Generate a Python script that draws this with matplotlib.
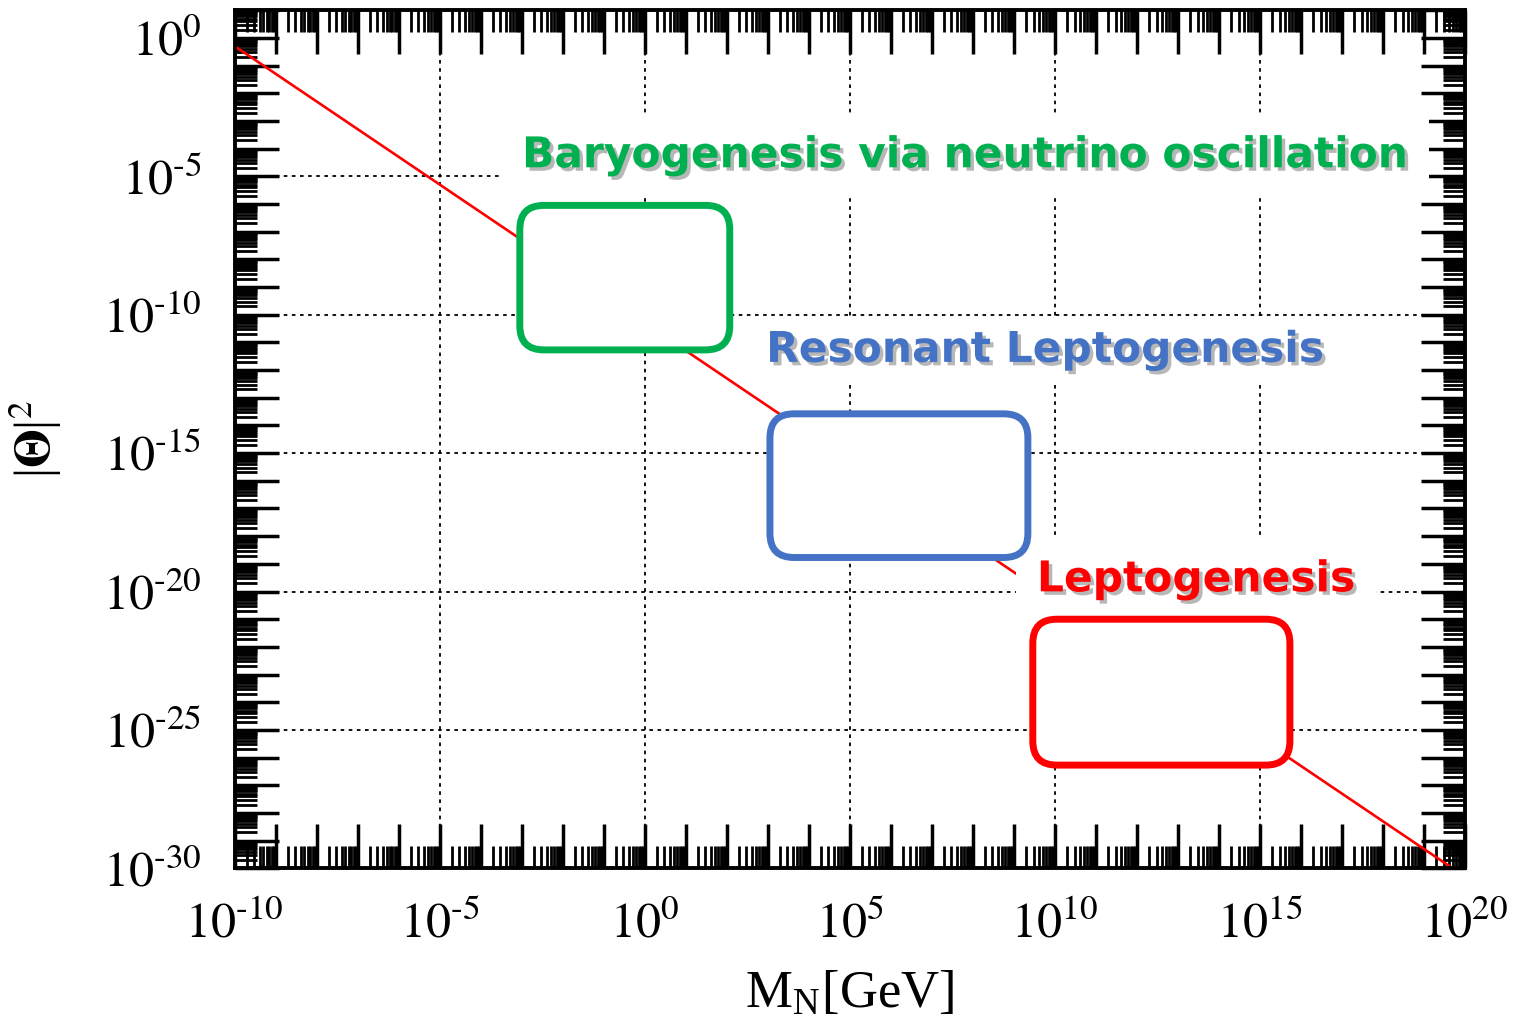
import numpy as np
import matplotlib
matplotlib.use('Agg')
import matplotlib.pyplot as plt
import matplotlib.ticker as mticker
import matplotlib.patheffects as pe
from matplotlib.patches import FancyBboxPatch
from matplotlib.transforms import IdentityTransform

plt.rcParams['font.family'] = ['Liberation Serif', 'DejaVu Serif']
plt.rcParams['mathtext.fontset'] = 'stix'

# seesaw line |Theta|^2 ~ m_nu / M_N (end points)
m_line = [1e-10, 5e19]
theta_line = [0.5, 1e-30]

# regions (x range in GeV, y range in |Theta|^2)
box_names = ['Baryogenesis via neutrino oscillation', 'Resonant Leptogenesis', 'Leptogenesis']
box_colors = ['#00B050', '#4472C4', '#FF0000']
box_x = [(10**-3.05, 10**2.07), (10**3.05, 10**9.34), (10**9.46, 10**15.73)]
box_y = [(10**-11.27, 10**-6.05), (10**-18.77, 10**-13.58), (10**-26.27, 10**-21.0)]
label_xy = [(10**7.8, 10**-4.24), (10**9.76, 10**-11.27), (10**13.44, 10**-19.56)]
label_pad = [0.5, 0.25, 0.5]

grid_x = [1e-5, 1e0, 1e5, 1e10, 1e15]
grid_y = [1e-5, 1e-10, 1e-15, 1e-20, 1e-25]

fig = plt.figure(figsize=(15.15, 10.24), dpi=100)
ax = fig.add_axes([0.155, 0.152, 0.812, 0.838])
ax.set_xscale('log')
ax.set_yscale('log')
ax.set_xlim(1e-10, 1e20)
ax.set_ylim(1e-30, 1e1)

for v in grid_x:
    ax.axvline(v, color='black', lw=1.3, ls=(0, (2, 2.5)), zorder=1)
for v in grid_y:
    ax.axhline(v, color='black', lw=1.3, ls=(0, (2, 2.5)), zorder=1)

ax.plot(m_line, theta_line, color='red', lw=1.9, zorder=2)


def fmt(v, pos):
    e = int(round(np.log10(v)))
    if e % 5 == 0:
        if e < 0:
            return r'$10^{\text{-}%d}$' % -e
        return r'$10^{%d}$' % e
    return ''


for axis in (ax.xaxis, ax.yaxis):
    axis.set_major_locator(mticker.LogLocator(base=10, numticks=60))
    axis.set_minor_locator(mticker.LogLocator(base=10, subs=np.arange(2, 10), numticks=60))
    axis.set_major_formatter(mticker.FuncFormatter(fmt))
    axis.set_minor_formatter(mticker.NullFormatter())

ax.tick_params(which='both', direction='in', top=True, right=True, labelsize=36)
ax.tick_params(which='major', length=32, width=2.5)
ax.tick_params(which='minor', length=16, width=2.0)
ax.tick_params(axis='x', pad=24)
ax.tick_params(axis='y', pad=24)
for s in ax.spines.values():
    s.set_linewidth(2.8)

ax.set_xlabel(r'M$_\mathregular{N}$[GeV]', fontsize=38, labelpad=16)
ax.set_ylabel(r'|$\mathbf{\Theta}$|$^2$', fontsize=36, labelpad=28)

# labels
shadow = [pe.SimplePatchShadow(offset=(2.5, -2.5), shadow_rgbFace='#888888', alpha=0.6), pe.Normal()]
for name, c, (lx, ly), pd in zip(box_names, box_colors, label_xy, label_pad):
    ax.text(lx, ly, name, color=c, fontsize=30.5, fontweight='bold', family='DejaVu Sans',
            ha='center', va='center', zorder=4, path_effects=shadow,
            bbox=dict(boxstyle='square,pad=%g' % pd, fc='white', ec='none'))

# rounded boxes, drawn in pixel space so the corners stay round on log axes
for c, (x0, x1), (y0, y1) in zip(box_colors, box_x, box_y):
    (px0, py0), (px1, py1) = ax.transData.transform([(x0, y0), (x1, y1)])
    p = FancyBboxPatch((px0, py0), px1 - px0, py1 - py0,
                       boxstyle='round,pad=0,rounding_size=24',
                       fc='white', ec=c, lw=5, transform=IdentityTransform(),
                       zorder=5, clip_on=False)
    ax.add_patch(p)

fig.savefig('out.png', dpi=100)
